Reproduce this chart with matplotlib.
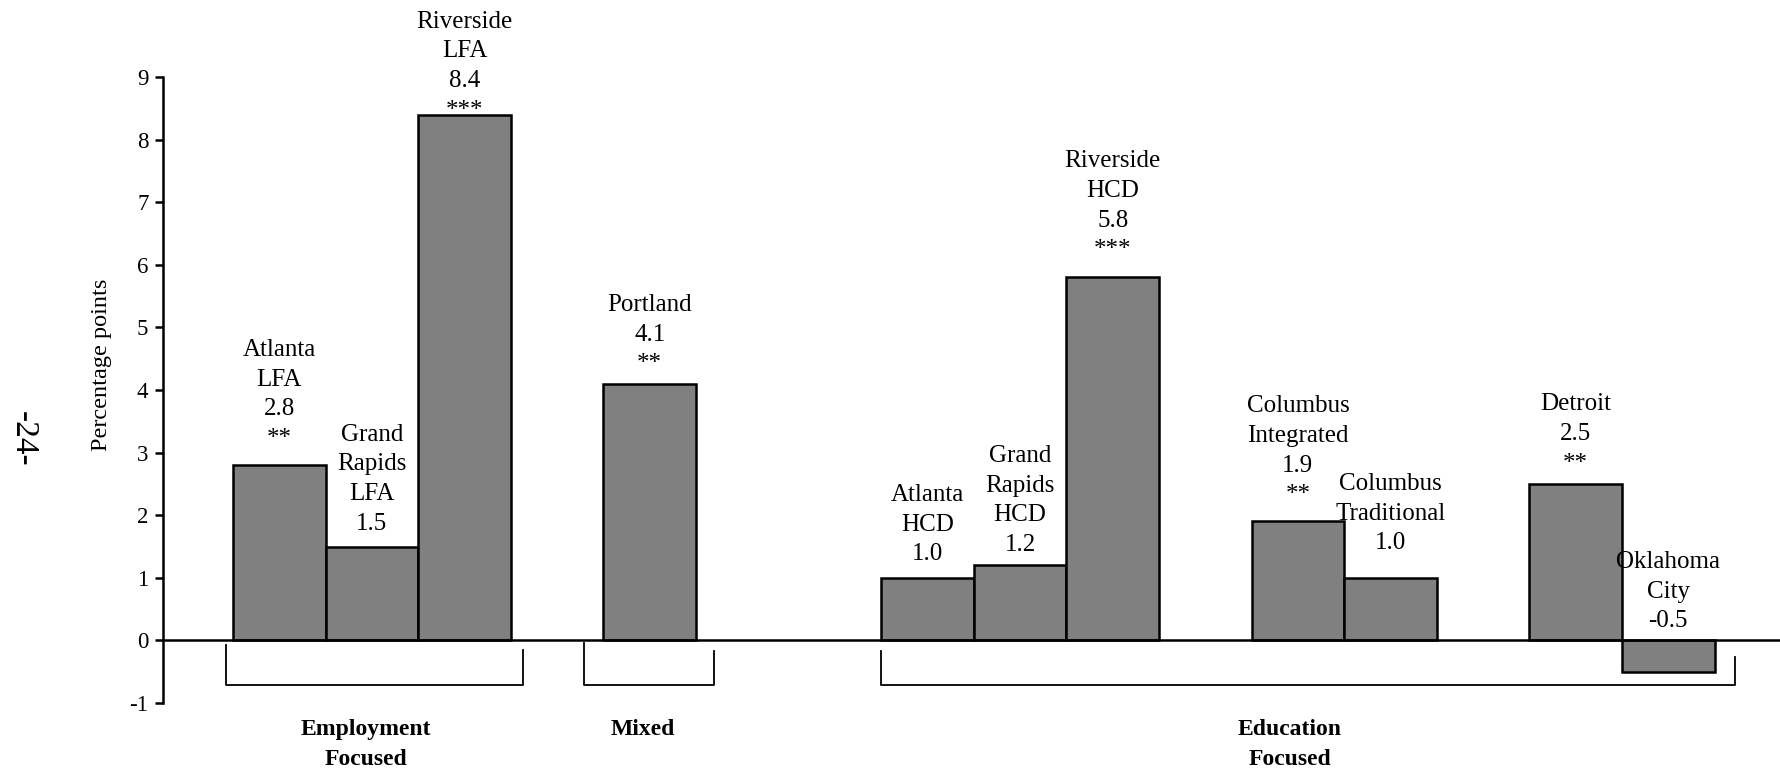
import numpy as np
import matplotlib
matplotlib.use("Agg")
import matplotlib.pyplot as plt
import matplotlib.transforms as mtransforms

# ---------------- data ----------------
sites = ["Atlanta\nLFA", "Grand\nRapids\nLFA", "Riverside\nLFA", "Portland",
         "Atlanta\nHCD", "Grand\nRapids\nHCD", "Riverside\nHCD",
         "Columbus\nIntegrated", "Columbus\nTraditional", "Detroit", "Oklahoma\nCity"]
values = [2.8, 1.5, 8.4, 4.1, 1.0, 1.2, 5.8, 1.9, 1.0, 2.5, -0.5]
stars = ["**", "", "***", "**", "", "", "***", "**", "", "**", ""]
group_names = ["Employment\nFocused", "Mixed", "Education\nFocused"]
group_of_bar = [0, 0, 0, 1, 2, 2, 2, 2, 2, 2, 2]
yticks = [-1, 0, 1, 2, 3, 4, 5, 6, 7, 8, 9]
ylabel = "Percentage points"
page_number = "-24-"

# ---------------- layout / style ----------------
gaps_before = [0, 0, 0, 1, 2, 0, 0, 1, 0, 1, 0]   # empty slots before each bar
label_offsets = [11, 8.5, -5, 6, 9.1, 6.6, 11.5, 11, 17, 6.6, 5.8]  # points above bar
bracket_pad_left = [0.08, 0.21, 0.0]
bracket_pad_right = [0.13, 0.19, 0.22]
bracket_top_left = [-0.07, -0.04, -0.17]
bracket_top_right = [-0.15, -0.17, -0.27]
bracket_bottom = -0.71
group_label_shift = [-0.09, -0.06, -0.2]

serif = "Liberation Serif"
plt.rcParams["font.family"] = [serif, "DejaVu Serif"]

fig = plt.figure(figsize=(17.8, 7.72), dpi=100)
ax = fig.add_axes([163 / 1780, 69 / 772, 1 - 163 / 1780, (703 - 77) / 772])

x = np.arange(len(values)) + np.cumsum(gaps_before)

ax.bar(x, values, width=1.0, color="#808080", edgecolor="black", linewidth=1.8, zorder=2)
ax.axhline(0, color="black", linewidth=1.8, zorder=3)

ax.set_ylim(-1, 9)
ax.set_xlim(-1.256, 16.206)
ax.set_yticks(yticks)
ax.set_yticklabels([str(t) for t in yticks], fontsize=16.5)
ax.set_xticks([])
for s in ["top", "right", "bottom"]:
    ax.spines[s].set_visible(False)
ax.spines["left"].set_linewidth(1.8)
ax.tick_params(axis="y", direction="out", length=5.5, width=1.8, pad=5)

# bar labels
for xi, site, v, st, off in zip(x, sites, values, stars, label_offsets):
    txt = site + "\n" + f"{v:.1f}" + ("\n" + st if st else "")
    ax.annotate(txt, xy=(xi, max(v, 0)), xytext=(0, off), textcoords="offset points",
                ha="center", va="bottom", fontsize=18, linespacing=1.45,
                annotation_clip=False)

# group brackets and labels
for g, name in enumerate(group_names):
    members = [x[i] for i in range(len(x)) if group_of_bar[i] == g]
    left = min(members) - 0.5 - bracket_pad_left[g]
    right = max(members) + 0.5 + bracket_pad_right[g]
    ax.plot([left, left, right, right],
            [bracket_top_left[g], bracket_bottom, bracket_bottom, bracket_top_right[g]],
            color="black", linewidth=1.3, clip_on=False, zorder=1)
    ax.text((left + right) / 2 + group_label_shift[g], -1.25, name, ha="center", va="top",
            fontsize=17, fontweight="bold", linespacing=1.6)

# y label
trans = mtransforms.blended_transform_factory(fig.transFigure, ax.transData)
ax.text(102 / 1780, 4.4, ylabel, transform=trans, rotation=90, ha="center", va="center",
        fontsize=17.5)
fig.text(23 / 1780, 1 - 439 / 772, page_number, rotation=270, ha="center", va="center",
         fontsize=24)

fig.savefig("out.png", dpi=100)
